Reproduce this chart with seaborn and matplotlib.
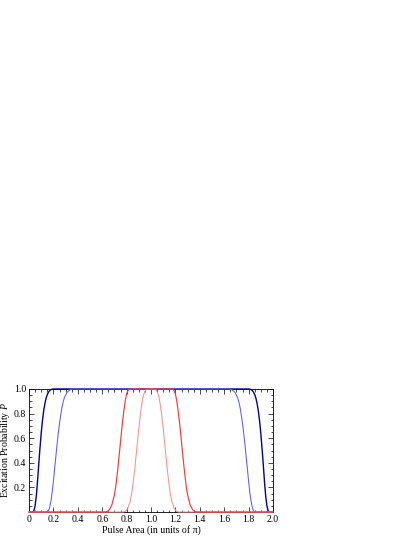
import matplotlib
matplotlib.use("Agg")
import matplotlib.pyplot as plt
import seaborn as sns
import pandas as pd
from matplotlib.ticker import MultipleLocator, FuncFormatter, FixedLocator

# ---- data ----
dark_blue_x = [0.00, 0.03, 0.04, 0.05, 0.06, 0.07, 0.08, 0.09, 0.10, 0.11, 0.12, 0.13, 0.14, 0.15, 0.16, 0.17, 0.18, 0.19, 0.20,
               1.80, 1.81, 1.82, 1.83, 1.84, 1.85, 1.86, 1.87, 1.88, 1.89, 1.90, 1.91, 1.92, 1.93, 1.94, 1.95, 1.96, 1.97, 2.00]
dark_blue_y = [0, 0, 0.01, 0.05, 0.13, 0.25, 0.39, 0.52, 0.64, 0.74, 0.82, 0.88, 0.925, 0.955, 0.975, 0.988, 0.995, 0.999, 1.0,
               1.0, 0.999, 0.995, 0.988, 0.975, 0.955, 0.925, 0.88, 0.82, 0.74, 0.64, 0.52, 0.39, 0.25, 0.13, 0.05, 0.01, 0, 0]

light_blue_x = [0.00, 0.15, 0.16, 0.17, 0.18, 0.19, 0.20, 0.21, 0.22, 0.23, 0.24, 0.25, 0.26, 0.27, 0.28, 0.29, 0.31, 0.33, 0.35, 0.37,
                1.63, 1.65, 1.67, 1.69, 1.71, 1.72, 1.73, 1.74, 1.75, 1.76, 1.77, 1.78, 1.79, 1.80, 1.81, 1.82, 1.83, 1.84, 1.85, 2.00]
light_blue_y = [0, 0, 0.01, 0.04, 0.09, 0.16, 0.25, 0.35, 0.45, 0.55, 0.64, 0.72, 0.79, 0.85, 0.895, 0.93, 0.97, 0.99, 0.998, 1.0,
                1.0, 0.998, 0.99, 0.97, 0.93, 0.895, 0.85, 0.79, 0.72, 0.64, 0.55, 0.45, 0.35, 0.25, 0.16, 0.09, 0.04, 0.01, 0, 0]

red_x = [0.00, 0.62, 0.64, 0.66, 0.68, 0.70, 0.71, 0.72, 0.73, 0.74, 0.75, 0.76, 0.77, 0.78, 0.79, 0.80, 0.81, 0.82, 0.84,
         1.16, 1.18, 1.19, 1.20, 1.21, 1.22, 1.23, 1.24, 1.25, 1.26, 1.27, 1.28, 1.29, 1.30, 1.32, 1.34, 1.36, 1.38, 2.00]
red_y = [0, 0, 0.005, 0.02, 0.06, 0.14, 0.20, 0.28, 0.37, 0.47, 0.57, 0.67, 0.76, 0.84, 0.91, 0.96, 0.985, 0.997, 1.0,
         1.0, 0.997, 0.985, 0.96, 0.91, 0.84, 0.76, 0.67, 0.57, 0.47, 0.37, 0.28, 0.20, 0.14, 0.06, 0.02, 0.005, 0, 0]

pink_x = [0.00, 0.77, 0.79, 0.81, 0.83, 0.84, 0.85, 0.86, 0.87, 0.88, 0.89, 0.90, 0.91, 0.92, 0.93, 0.94, 0.95, 0.96, 0.98,
          1.02, 1.04, 1.05, 1.06, 1.07, 1.08, 1.09, 1.10, 1.11, 1.12, 1.13, 1.14, 1.15, 1.16, 1.17, 1.19, 1.21, 1.23, 2.00]
pink_y = [0, 0, 0.005, 0.03, 0.09, 0.14, 0.21, 0.29, 0.38, 0.48, 0.58, 0.68, 0.77, 0.85, 0.91, 0.955, 0.98, 0.995, 1.0,
          1.0, 0.995, 0.98, 0.955, 0.91, 0.85, 0.77, 0.68, 0.58, 0.48, 0.38, 0.29, 0.21, 0.14, 0.09, 0.03, 0.005, 0, 0]

x_ticks = [0.0, 0.2, 0.4, 0.6, 0.8, 1.0, 1.2, 1.4, 1.6, 1.8, 2.0]
y_ticks = [0.2, 0.4, 0.6, 0.8, 1.0]

curves = [
    ("dark_blue", dark_blue_x, dark_blue_y, "#00009C", 1.0),
    ("light_blue", light_blue_x, light_blue_y, "#5A5AFF", 0.75),
    ("pink", pink_x, pink_y, "#FF8C8C", 0.75),
    ("red", red_x, red_y, "#FF3535", 0.85),
]

frames = []
for name, xs, ys, _, _ in curves:
    frames.append(pd.DataFrame({"area": xs, "prob": ys, "curve": name}))
df = pd.concat(frames, ignore_index=True)

sns.set_style("ticks")
plt.rcParams['font.family'] = ['Liberation Serif', 'DejaVu Serif']
plt.rcParams['mathtext.fontset'] = 'custom'
plt.rcParams['mathtext.rm'] = 'Liberation Serif'
plt.rcParams['mathtext.it'] = 'Liberation Serif:italic'
plt.rcParams['text.color'] = 'black'
plt.rcParams['axes.labelcolor'] = 'black'
plt.rcParams['xtick.color'] = 'black'
plt.rcParams['ytick.color'] = 'black'

fig = plt.figure(figsize=(4.15, 5.37), dpi=100)
W, H = 415.0, 537.0
ax = fig.add_axes([29 / W, 1 - 512 / H, (273 - 29) / W, (512 - 389) / H])

for name, _, _, color, lw in curves:
    sns.lineplot(data=df[df["curve"] == name], x="area", y="prob", color=color,
                 linewidth=lw, ax=ax, estimator=None, sort=False,
                 clip_on=False, zorder=3)

ax.set_xlim(0, 2)
ax.set_ylim(0, 1)
ax.xaxis.set_major_locator(FixedLocator(x_ticks))
ax.yaxis.set_major_locator(FixedLocator(y_ticks))
ax.xaxis.set_minor_locator(MultipleLocator(0.05))
ax.yaxis.set_minor_locator(MultipleLocator(0.05))
ax.xaxis.set_major_formatter(FuncFormatter(lambda v, p: "0" if abs(v) < 1e-9 else f"{v:.1f}"))
ax.yaxis.set_major_formatter(FuncFormatter(lambda v, p: f"{v:.1f}"))

ax.tick_params(which="both", direction="in", top=True, right=True,
               labelsize=7, width=0.5, color="black", pad=2)
ax.tick_params(which="major", length=3.5)
ax.tick_params(which="minor", length=1.8)

for s in ax.spines.values():
    s.set_color("black")
    s.set_linewidth(0.6)

ax.set_xlabel("Pulse Area (in units of π)", fontsize=7, labelpad=1)
ax.set_ylabel("Excitation Probability $P$", fontsize=7)
ax.yaxis.set_label_coords(-0.068, 0.5)

fig.savefig("out.png", dpi=100)
